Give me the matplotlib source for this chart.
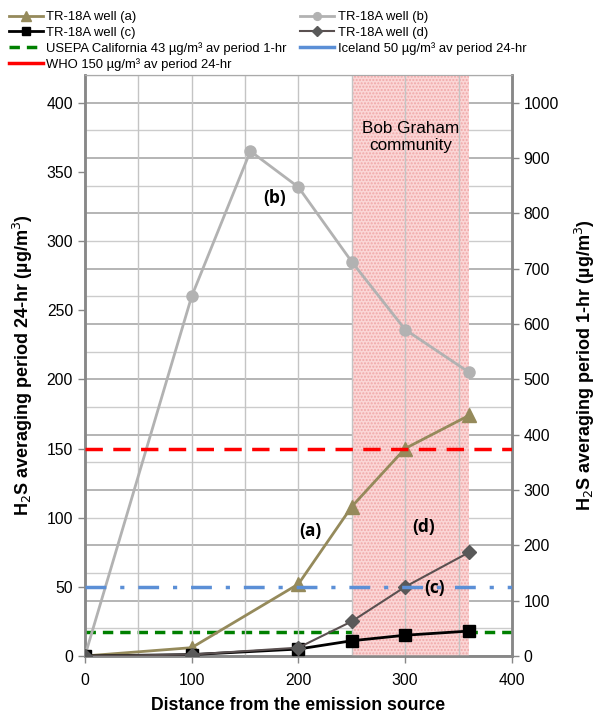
import numpy as np
import matplotlib
matplotlib.use('Agg')
import matplotlib.pyplot as plt
from matplotlib.lines import Line2D
from matplotlib.ticker import MultipleLocator

plt.rcParams['font.family'] = ['Liberation Sans', 'DejaVu Sans']

# distance from the emission source
dist_b = [0, 100, 155, 200, 250, 300, 360]
dist   = [0, 100, 200, 250, 300, 360]

# H2S concentrations, 24-hr average (ug/m3)
well_a = [0, 6, 52, 108, 150, 174]
well_b = [0, 260, 365, 339, 285, 236, 205]
well_c = [0, 1, 5, 11, 15, 18]
well_d = [0, 1, 6, 25, 50, 75]

# guideline levels
who_24h = 150
iceland_24h = 50
usepa_1h = 43

community = (250, 360)

fig = plt.figure(figsize=(5.98, 7.18), dpi=100)
ax = fig.add_axes([0.142, 0.0864, 0.714, 0.809])
ax2 = ax.twinx()

ax.axvspan(*community, facecolor='#fbd6d6', edgecolor='#f0a8a8', hatch='.....',
           lw=0, zorder=0)
ax.text(305, 375, 'Bob Graham\ncommunity', ha='center', va='center', fontsize=12.3,
        linespacing=1.15)

lb, = ax.plot(dist_b, well_b, color='#b2b2b2', lw=2, marker='o', ms=8, zorder=3)
la, = ax.plot(dist, well_a, color='#958a5b', lw=2, marker='^', ms=10, zorder=3)
lc, = ax.plot(dist, well_c, color='black', lw=2, marker='s', ms=8,
              mfc='black', zorder=3)
ld, = ax.plot(dist, well_d, color='#5a5050', lw=1.5, marker='D', ms=7,
              mfc='#595959', mec='#595959', zorder=4)

ax.axhline(who_24h, color='#ff0000', lw=2.5, ls=(0, (5, 3)), zorder=5)
ax.axhline(iceland_24h, color='#5b8fd6', lw=2.5, ls=(0, (6, 4, 1.2, 4)), zorder=5)
ax2.axhline(usepa_1h, color='#008000', lw=2.5, ls=(0, (3, 2)), zorder=5)

tag = dict(fontsize=12.5, fontweight='bold', ha='center', va='center',
           family=['Open Sans', 'DejaVu Sans'])
ax.text(178, 331, '(b)', **tag)
ax.text(211, 90, '(a)', **tag)
ax.text(317, 93, '(d)', **tag)
ax.text(328, 49, '(c)', **tag)

ax.set_xlim(0, 400)
ax.set_ylim(0, 420)
ax2.set_ylim(0, 1050)
ax.xaxis.set_major_locator(MultipleLocator(100))
ax.xaxis.set_minor_locator(MultipleLocator(50))
ax.yaxis.set_major_locator(MultipleLocator(50))
ax2.yaxis.set_major_locator(MultipleLocator(100))
ax2.yaxis.set_minor_locator(MultipleLocator(50))

ax.grid(axis='x', which='both', color='#c4c4c4', lw=1)
ax2.grid(axis='y', which='major', color='#a8a8a8', lw=1.2)
ax2.grid(axis='y', which='minor', color='#cccccc', lw=1)
ax2.set_axisbelow(True)
ax.set_zorder(ax2.get_zorder() + 1)
ax.patch.set_visible(False)

for a in (ax, ax2):
    for s in a.spines.values():
        s.set_color('#888888')
        s.set_linewidth(1.8)
    a.spines['top'].set_linewidth(0.8)
    a.spines['top'].set_color('#aaaaaa')
    a.tick_params(which='major', length=5, color='#888888', labelsize=11.3, width=1)
    a.tick_params(which='minor', length=0)
ax.tick_params(axis='x', pad=7)

ax.set_xlabel('Distance from the emission source', fontsize=12.7, fontweight='bold',
              labelpad=7)
ax.set_ylabel('H$_2$S averaging period 24-hr (µg/m$^3$)', fontsize=13,
              fontweight='bold', labelpad=8)
ax2.set_ylabel('H$_2$S averaging period 1-hr (µg/m$^3$)', fontsize=13,
               fontweight='bold', labelpad=10)

h_usepa = Line2D([], [], color='#008000', lw=2.5, ls=(0, (3, 2)))
h_ice = Line2D([], [], color='#5b8fd6', lw=2.5)
h_who = Line2D([], [], color='#ff0000', lw=2.5)
handles = [la, lc, h_usepa, h_who, lb, ld, h_ice]
labels = ['TR-18A well (a)', 'TR-18A well (c)',
          'USEPA California 43 µg/m³ av period 1-hr',
          'WHO 150 µg/m³ av period 24-hr',
          'TR-18A well (b)', 'TR-18A well (d)',
          'Iceland 50 µg/m³ av period 24-hr']
fig.legend(handles, labels, loc='upper left', bbox_to_anchor=(9 / 598, 1 - 11 / 718),
           ncol=2, frameon=False, fontsize=9.4, handlelength=2.6, handletextpad=0.25,
           labelspacing=0.25, columnspacing=1.05, markerscale=0.7,
           borderpad=0, borderaxespad=0)

fig.savefig('out.png', dpi=100)
